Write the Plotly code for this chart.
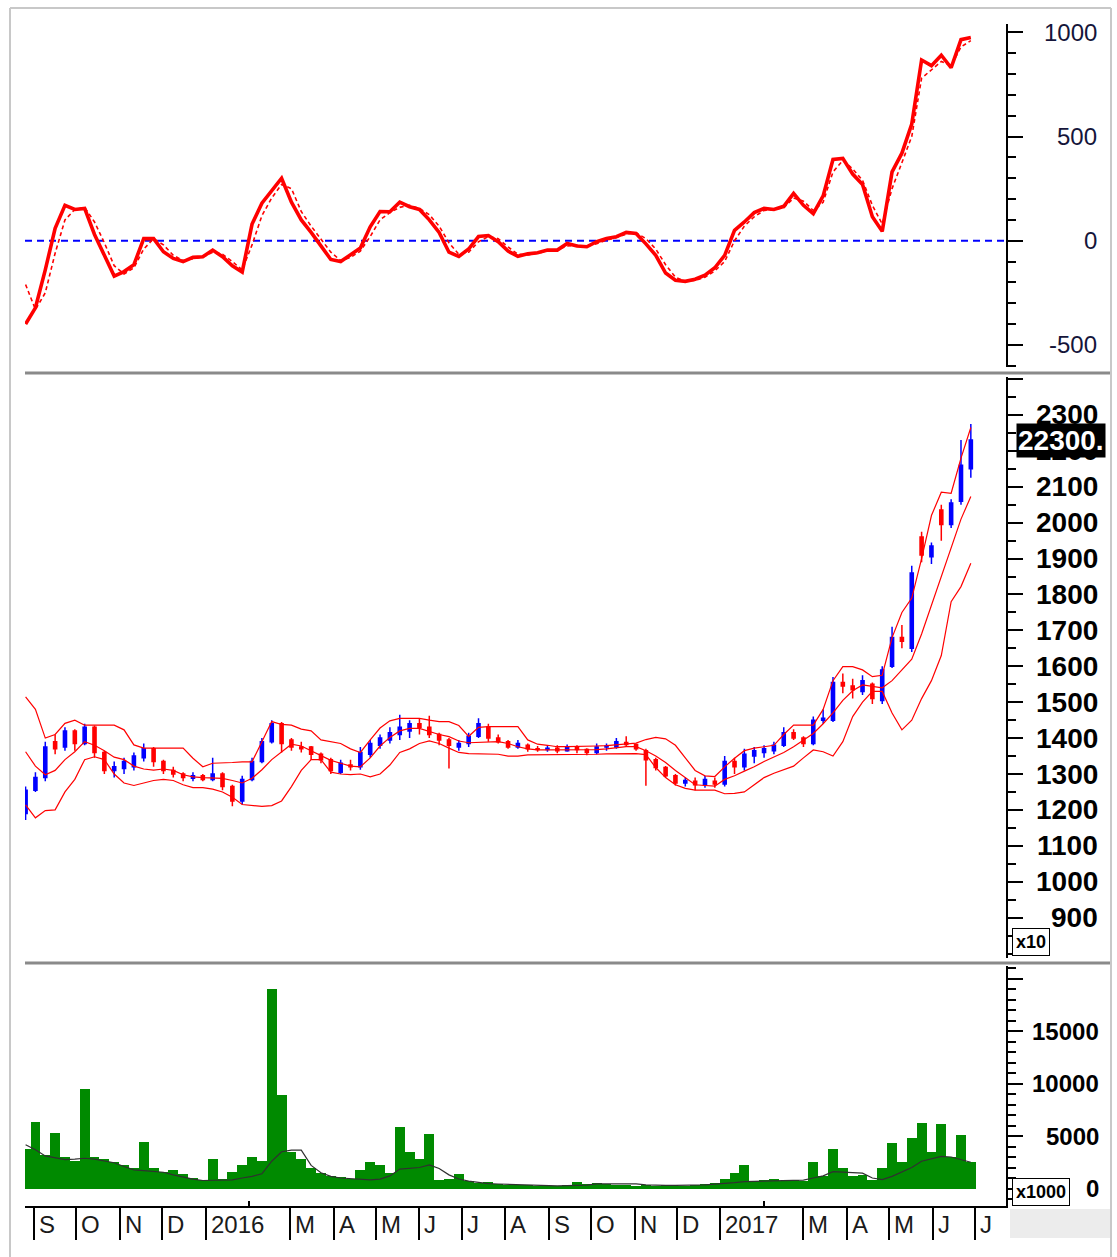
import plotly.graph_objects as go
import pandas as pd

# ---------------- data (weekly) ----------------
week = pd.date_range("2015-08-26", periods=97, freq="7D")

open_ = [1190,1255,1290,1390,1375,1420,1385,1430,1360,1310,
         1315,1320,1345,1370,1335,1310,1300,1288,1295,1285,
         1300,1265,1225,1285,1335,1390,1440,1395,1375,1375,
         1355,1340,1305,1325,1320,1355,1380,1395,1410,1420,
         1440,1430,1410,1395,1375,1385,1405,1430,1400,1390,
         1375,1380,1370,1368,1372,1365,1375,1368,1360,1375,
         1375,1388,1382,1365,1340,1318,1295,1275,1280,1270,
         1280,1272,1335,1320,1350,1360,1365,1380,1415,1400,
         1385,1450,1450,1555,1545,1530,1550,1505,1600,1680,
         1650,1960,1905,2035,1995,2060,2150]
high = [1265,1305,1390,1410,1430,1425,1440,1435,1365,1335,
        1345,1360,1385,1375,1340,1320,1305,1305,1300,1345,
        1305,1270,1295,1345,1400,1450,1445,1400,1390,1378,
        1360,1345,1340,1340,1375,1395,1410,1430,1465,1450,
        1455,1462,1415,1400,1395,1415,1455,1440,1410,1395,
        1395,1385,1378,1380,1380,1382,1380,1372,1385,1385,
        1400,1405,1385,1370,1345,1322,1300,1290,1290,1295,
        1290,1350,1345,1370,1375,1380,1390,1430,1425,1405,
        1460,1480,1570,1580,1565,1575,1555,1600,1710,1715,
        1880,1975,1945,2050,2065,2230,2275]
low = [1172,1250,1280,1355,1365,1365,1380,1345,1300,1290,
       1300,1310,1335,1320,1300,1290,1280,1280,1280,1280,
       1255,1210,1215,1280,1330,1385,1360,1365,1360,1340,
       1330,1300,1300,1310,1312,1345,1370,1385,1395,1400,
       1410,1400,1380,1315,1365,1375,1400,1390,1385,1370,
       1370,1362,1362,1362,1358,1362,1358,1352,1355,1365,
       1370,1375,1365,1267,1310,1290,1268,1265,1255,1262,
       1262,1265,1300,1310,1330,1345,1355,1375,1395,1375,
       1380,1440,1445,1525,1510,1520,1495,1495,1595,1650,
       1640,1890,1885,1950,1985,2050,2125]
close = [1255,1290,1375,1370,1420,1385,1430,1360,1310,1320,
         1335,1350,1370,1335,1310,1300,1290,1295,1285,1300,
         1265,1225,1285,1335,1390,1440,1385,1375,1370,1355,
         1340,1310,1330,1320,1360,1385,1400,1415,1430,1440,
         1430,1410,1395,1380,1385,1405,1440,1400,1390,1375,
         1385,1370,1368,1372,1365,1375,1368,1360,1375,1378,
         1390,1382,1370,1340,1318,1295,1275,1282,1270,1285,
         1272,1335,1320,1355,1365,1370,1380,1415,1400,1385,
         1450,1455,1555,1545,1535,1560,1510,1590,1680,1670,
         1860,1910,1935,1995,2055,2160,2230]

bb_upper = [1515,1480,1400,1410,1441,1450,1436,1436,1436,1436,
            1423,1381,1372,1372,1372,1372,1372,1344,1320,1330,
            1330,1332,1334,1334,1390,1446,1438,1436,1425,1420,
            1395,1390,1385,1370,1360,1395,1428,1448,1455,1455,
            1455,1450,1446,1446,1435,1405,1430,1432,1432,1432,
            1432,1395,1383,1380,1376,1376,1376,1376,1378,1379,
            1381,1383,1386,1396,1402,1398,1380,1345,1310,1295,
            1293,1320,1344,1365,1372,1376,1380,1410,1436,1436,
            1436,1480,1560,1599,1599,1590,1571,1575,1680,1750,
            1790,1900,2020,2085,2082,2180,2265]
bb_mid = [1362,1322,1298,1310,1340,1362,1390,1380,1365,1347,
          1340,1322,1314,1311,1314,1310,1298,1292,1290,1288,
          1288,1282,1275,1288,1312,1340,1362,1383,1378,1365,
          1352,1338,1330,1322,1320,1345,1378,1402,1420,1427,
          1427,1418,1410,1404,1392,1387,1388,1390,1390,1385,
          1376,1370,1367,1367,1367,1367,1367,1367,1368,1370,
          1374,1376,1376,1365,1350,1332,1310,1290,1270,1268,
          1266,1285,1295,1308,1320,1335,1348,1360,1376,1395,
          1413,1440,1470,1505,1532,1548,1545,1540,1560,1590,
          1620,1690,1770,1850,1930,2010,2073]
bb_lower = [1214,1178,1198,1200,1250,1285,1340,1348,1340,1300,
            1275,1268,1275,1282,1285,1282,1270,1262,1262,1258,
            1250,1235,1215,1212,1210,1212,1225,1265,1310,1340,
            1340,1305,1300,1298,1300,1292,1300,1325,1360,1370,
            1385,1392,1385,1372,1360,1357,1357,1357,1355,1350,
            1350,1353,1353,1353,1353,1353,1353,1353,1355,1356,
            1357,1357,1357,1354,1318,1290,1270,1260,1255,1255,
            1255,1245,1246,1250,1270,1290,1302,1312,1322,1345,
            1367,1362,1350,1390,1460,1500,1530,1530,1470,1423,
            1450,1510,1560,1630,1780,1822,1887]

osc = [-400,-322,-140,60,170,150,155,30,-70,-170,
       -148,-115,10,10,-53,-85,-100,-80,-77,-45,
       -77,-120,-150,80,180,240,300,185,100,40,
       -25,-90,-100,-65,-35,67,140,139,185,163,
       150,100,40,-55,-75,-40,20,25,-5,-50,
       -75,-63,-58,-45,-45,-13,-25,-29,-5,11,
       19,40,35,-15,-70,-155,-190,-195,-185,-165,
       -130,-70,50,90,135,155,150,165,227,170,
       130,215,390,395,320,270,115,45,330,420,
       560,867,840,890,830,965,975]
osc_signal = [-210,-330,-250,-60,100,150,160,90,-10,-120,
              -160,-130,-40,10,-20,-70,-95,-85,-78,-55,
              -65,-100,-140,-20,120,205,270,250,140,70,
              10,-55,-95,-80,-50,20,100,135,160,170,
              155,125,70,-10,-65,-55,-5,20,10,-30,
              -65,-68,-60,-50,-45,-25,-22,-27,-15,3,
              15,32,38,10,-40,-115,-175,-195,-190,-175,
              -145,-100,0,70,115,145,150,158,205,190,
              145,185,330,385,345,290,170,80,250,380,
              500,780,820,860,840,930,960]

volume = [3800,6300,3200,5300,3000,2600,9500,3000,2800,2500,
          2200,2000,4400,2000,1600,1800,1400,1000,800,2800,
          900,1600,2200,3000,2600,19000,8900,3500,2800,2000,
          1500,1200,1100,900,1800,2500,2200,1500,5900,3500,
          2800,5200,800,900,1400,700,500,600,400,300,
          350,300,250,200,250,350,600,400,500,450,
          350,300,250,350,250,300,200,250,300,400,
          500,900,1500,2200,700,800,900,700,800,700,
          2500,1200,3800,2000,1200,1300,800,2000,4300,2500,
          4800,6200,3500,6100,3000,5100,2500]
volume_ma = [4160,3700,3100,2900,2750,2800,2880,2800,2650,2450,
             2100,1780,1700,1650,1550,1300,1080,900,760,780,
             800,830,1000,1150,1400,2600,3500,3650,3650,2200,
             1500,1150,1000,950,850,830,900,1200,1850,1900,
             2000,2250,1900,1300,900,700,550,470,430,400,
             340,320,300,260,250,280,300,330,440,440,
             440,440,440,350,290,290,290,290,300,350,
             420,450,550,650,680,720,750,760,760,800,
             1000,1200,1600,1550,1500,1460,1000,850,1150,1600,
             2000,2600,2800,3050,3000,2730,2500]

month_dates = ["2015-09-01","2015-10-01","2015-11-01","2015-12-01","2016-01-01",
               "2016-03-01","2016-04-01","2016-05-01","2016-06-01","2016-07-01",
               "2016-08-01","2016-09-01","2016-10-01","2016-11-01","2016-12-01",
               "2017-01-01","2017-03-01","2017-04-01","2017-05-01","2017-06-01",
               "2017-07-01"]
month_labels = ["S","O","N","D","2016","M","A","M","J","J","A","S","O","N","D",
                "2017","M","A","M","J","J"]
feb_dates = ["2016-02-01","2017-02-01"]

osc_ticks = [1000, 500, 0, -500]
price_ticks = list(range(900, 2400, 100))
vol_ticks = [15000, 10000, 5000, 0]
last_price_label = "22300."
last_price = close[-1]

# ---------------- layout helpers ----------------
W, H = 1117, 1257
def fx(px):
    return px / W
def fy(py):
    return 1 - py / H

FONT = "Liberation Sans, Arial, sans-serif"
xr = ["2015-08-25 14:00", "2017-07-23"]

fig = go.Figure()

# oscillator panel
fig.add_trace(go.Scatter(x=week, y=osc_signal, mode="lines",
                         line=dict(color="#ff0000", width=1.6, dash="4px,3px"),
                         xaxis="x", yaxis="y", hoverinfo="skip"))
fig.add_trace(go.Scatter(x=week, y=osc, mode="lines",
                         line=dict(color="#ff0000", width=3.6),
                         xaxis="x", yaxis="y", hoverinfo="skip"))

# price panel
for arr in (bb_upper, bb_mid, bb_lower):
    fig.add_trace(go.Scatter(x=week, y=arr, mode="lines",
                             line=dict(color="#ff0000", width=1.2),
                             xaxis="x2", yaxis="y2", hoverinfo="skip"))
fig.add_trace(go.Candlestick(
    x=week, open=open_, high=high, low=low, close=close,
    increasing=dict(line=dict(color="#0000ff", width=1.5), fillcolor="#0000ff"),
    decreasing=dict(line=dict(color="#ff0000", width=1.5), fillcolor="#ff0000"),
    whiskerwidth=0, xaxis="x2", yaxis="y2", hoverinfo="skip"))

# volume panel
fig.add_trace(go.Bar(x=week, y=volume, width=7 * 86400000,
                     marker=dict(color="#008a00", line=dict(width=0)),
                     xaxis="x3", yaxis="y3", hoverinfo="skip"))
fig.add_trace(go.Scatter(x=week, y=volume_ma, mode="lines",
                         line=dict(color="#303030", width=1.2),
                         xaxis="x3", yaxis="y3", hoverinfo="skip"))

xdom = [fx(25), fx(1006)]
hidden_x = dict(domain=xdom, range=xr, type="date", showgrid=False, zeroline=False,
                showline=False, ticks="", showticklabels=False)

def yax(dom, rng, dtick, mdtick):
    return dict(domain=dom, range=rng, side="right", showgrid=False, zeroline=False,
                showline=True, linecolor="#000000", linewidth=2,
                ticks="outside", ticklen=15, tickwidth=2, tickcolor="#000000",
                tick0=0, dtick=dtick, showticklabels=False,
                minor=dict(dtick=mdtick, tick0=0, ticks="outside", ticklen=8,
                           tickwidth=2, tickcolor="#000000"))

fig.update_layout(
    width=W, height=H, margin=dict(l=0, r=0, t=0, b=0),
    paper_bgcolor="#ffffff", plot_bgcolor="#ffffff",
    showlegend=False, bargap=0, boxgap=0.55,
    xaxis=dict(hidden_x, anchor="y"),
    xaxis2=dict(hidden_x, anchor="y2", rangeslider=dict(visible=False)),
    xaxis3=dict(domain=xdom, range=xr, type="date", anchor="y3", showgrid=False,
                zeroline=False, showline=True, linecolor="#000000", linewidth=2,
                tickmode="array", tickvals=month_dates, ticks="outside", ticklen=32,
                tickwidth=2, tickcolor="#000000", showticklabels=False,
                minor=dict(tickvals=feb_dates, ticks="inside", ticklen=5,
                           tickwidth=2, tickcolor="#000000"),
                rangeslider=dict(visible=False)),
    yaxis=dict(yax([fy(367), fy(24)], [-606, 1040], 500, 100), anchor="x"),
    yaxis2=dict(yax([fy(958), fy(377)], [787.5, 2405.8], 100, 50), anchor="x2"),
    yaxis3=dict(yax([fy(1206), fy(966)], [-1667, 21190], 5000, 1000), anchor="x3"),
)

shapes = []
# zero line of the oscillator
shapes.append(dict(type="line", xref="x domain", yref="y", x0=0, x1=1, y0=0, y1=0,
                   line=dict(color="#0000ff", width=2, dash="7px,5px"), layer="below"))
# panel separators
for py in (373, 963):
    shapes.append(dict(type="line", xref="paper", yref="paper", x0=fx(25), x1=fx(1110),
                       y0=fy(py), y1=fy(py), line=dict(color="#8a8a8a", width=3)))
# outer frame
shapes.append(dict(type="line", xref="paper", yref="paper", x0=fx(10), x1=fx(1111),
                   y0=fy(8), y1=fy(8), line=dict(color="#c8c8c8", width=2)))
shapes.append(dict(type="line", xref="paper", yref="paper", x0=fx(10), x1=fx(10),
                   y0=fy(8), y1=fy(1257), line=dict(color="#c8c8c8", width=2)))
shapes.append(dict(type="line", xref="paper", yref="paper", x0=fx(1111), x1=fx(1111),
                   y0=fy(8), y1=fy(1257), line=dict(color="#c8c8c8", width=2)))
# grey block under the value axis
shapes.append(dict(type="rect", xref="paper", yref="paper", x0=fx(1010), x1=fx(1110),
                   y0=fy(1238), y1=fy(1209), fillcolor="#ececec", line=dict(width=0)))
fig.update_layout(shapes=shapes)

ann = []
for v in osc_ticks:
    ann.append(dict(x=fx(1099), xref="paper", y=v, yref="y", xanchor="right",
                    yanchor="middle", text=str(v), showarrow=False,
                    font=dict(family=FONT, size=24, color="#15153a")))
for v in price_ticks:
    ann.append(dict(x=fx(1100), xref="paper", y=v, yref="y2", xanchor="right",
                    yanchor="middle", text="<b>%d</b>" % v, showarrow=False,
                    font=dict(family=FONT, size=28, color="#000000")))
for v in vol_ticks:
    ann.append(dict(x=fx(1101), xref="paper", y=v, yref="y3", xanchor="right",
                    yanchor="middle", text="<b>%d</b>" % v, showarrow=False,
                    font=dict(family=FONT, size=24, color="#000000")))
# last price box
ann.append(dict(x=fx(1016), xref="paper", y=last_price, yref="y2", xanchor="left",
                yanchor="middle", text="<b>%s</b>" % last_price_label, showarrow=False,
                bgcolor="#000000", borderpad=1,
                font=dict(family=FONT, size=28, color="#ffffff")))
# scale boxes
ann.append(dict(x=fx(1012), xref="paper", y=fy(956), yref="paper", xanchor="left",
                yanchor="bottom", text="<b>x10</b>", showarrow=False, bgcolor="#ffffff",
                bordercolor="#000000", borderwidth=1, borderpad=3,
                font=dict(family=FONT, size=18, color="#000000")))
ann.append(dict(x=fx(1012), xref="paper", y=fy(1206), yref="paper", xanchor="left",
                yanchor="bottom", text="<b>x1000</b>", showarrow=False, bgcolor="#ffffff",
                bordercolor="#000000", borderwidth=1, borderpad=3,
                font=dict(family=FONT, size=18, color="#000000")))
# month labels
for d, t in zip(month_dates, month_labels):
    ann.append(dict(x=d, xref="x3", y=fy(1224), yref="paper", xanchor="left",
                    yanchor="middle", xshift=3, text=t, showarrow=False,
                    font=dict(family=FONT, size=24, color="#1a1a1a")))
fig.update_layout(annotations=ann)

fig.write_html("out.html", config=dict(displayModeBar=False),
               post_script="document.body.style.margin='0px';")
